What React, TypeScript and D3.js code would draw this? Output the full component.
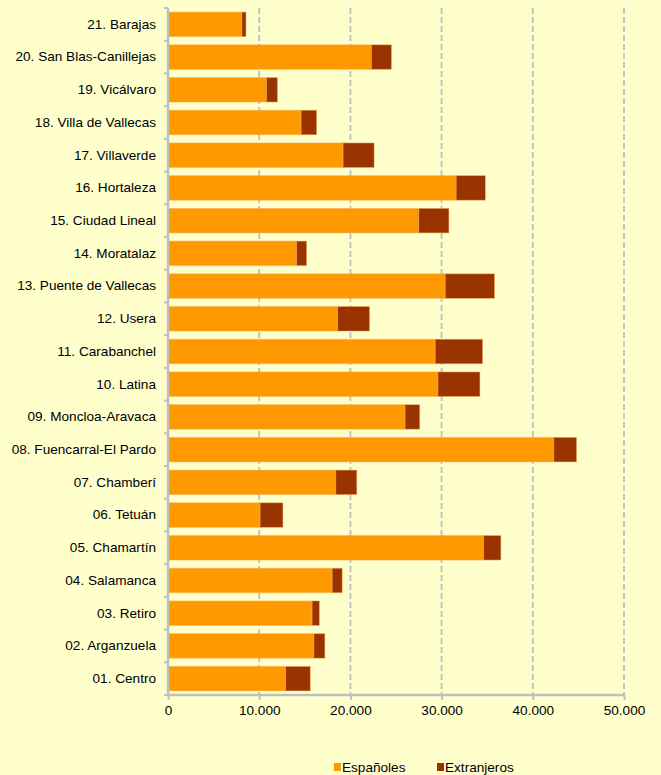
import { useEffect, useRef } from "react";
import * as d3 from "d3";

// districts top to bottom, as in the picture
const districts = [
  "21. Barajas",
  "20. San Blas-Canillejas",
  "19. Vicálvaro",
  "18. Villa de Vallecas",
  "17. Villaverde",
  "16. Hortaleza",
  "15. Ciudad Lineal",
  "14. Moratalaz",
  "13. Puente de Vallecas",
  "12. Usera",
  "11. Carabanchel",
  "10. Latina",
  "09. Moncloa-Aravaca",
  "08. Fuencarral-El Pardo",
  "07. Chamberí",
  "06. Tetuán",
  "05. Chamartín",
  "04. Salamanca",
  "03. Retiro",
  "02. Arganzuela",
  "01. Centro",
];

const espanoles = [
  8100, 22300, 10800, 14600, 19200, 31600, 27500, 14100, 30400, 18600, 29300,
  29600, 26000, 42300, 18400, 10100, 34600, 18000, 15800, 16000, 12900,
];

const extranjeros = [
  450, 2200, 1200, 1700, 3400, 3200, 3300, 1100, 5400, 3500, 5200, 4600, 1600,
  2500, 2300, 2500, 1900, 1100, 800, 1200, 2700,
];

const seriesNames = ["Españoles", "Extranjeros"];
const seriesColors = ["#FF9900", "#993300"];
const xTicks = [0, 10000, 20000, 30000, 40000, 50000];

const W = 661;
const H = 775;
const FONT = "Liberation Sans, Arial, sans-serif";

export default function App() {
  const ref = useRef<SVGSVGElement>(null);

  useEffect(() => {
    const svg = d3.select(ref.current);
    svg.selectAll("*").remove();

    const margin = { top: 8, right: 37, bottom: 80, left: 168 };
    const width = W - margin.left - margin.right;
    const height = H - margin.top - margin.bottom;

    svg
      .append("rect")
      .attr("width", W)
      .attr("height", H)
      .attr("fill", "#FFFFCC");

    const g = svg
      .append("g")
      .attr("transform", `translate(${margin.left},${margin.top})`);

    const x = d3.scaleLinear().domain([0, 50000]).range([0, width]);
    const y = d3
      .scaleBand()
      .domain(districts)
      .range([0, height])
      .paddingInner(0.25)
      .paddingOuter(0.125);

    // dashed gridlines
    g.selectAll(".grid")
      .data(xTicks.slice(1))
      .enter()
      .append("line")
      .attr("x1", (d) => x(d))
      .attr("x2", (d) => x(d))
      .attr("y1", 0)
      .attr("y2", height)
      .attr("stroke", "#C3C3C3")
      .attr("stroke-width", 2)
      .attr("stroke-dasharray", "6,3");

    const rows = districts.map((d, i) => ({
      name: d,
      values: [espanoles[i], extranjeros[i]],
    }));

    const stack = d3
      .stack<any>()
      .keys([0, 1] as any)
      .value((d: any, k: any) => d.values[k]);
    const layers = stack(rows as any);

    layers.forEach((layer, li) => {
      g.selectAll(".bar" + li)
        .data(layer)
        .enter()
        .append("rect")
        .attr("x", (d) => x(d[0]))
        .attr("y", (d: any) => y(d.data.name)!)
        .attr("width", (d) => x(d[1]) - x(d[0]))
        .attr("height", y.bandwidth())
        .attr("fill", seriesColors[li])
        .attr("stroke", "#F0B060")
        .attr("stroke-opacity", 0.6)
        .attr("stroke-width", 0.8);
    });

    // left axis
    const yAxis = g
      .append("g")
      .call(d3.axisLeft(y).tickSize(0).tickPadding(12));
    yAxis.select(".domain").remove();
    yAxis
      .selectAll("text")
      .attr("font-family", FONT)
      .attr("font-size", 13.6)
      .attr("fill", "#000");

    const step = y.step();
    const bounds = d3.range(0, districts.length + 1).map((i) => i * step);
    g.selectAll(".ytick")
      .data(bounds)
      .enter()
      .append("line")
      .attr("x1", -4)
      .attr("x2", 0)
      .attr("y1", (d) => d)
      .attr("y2", (d) => d)
      .attr("stroke", "#BFBFBF")
      .attr("stroke-width", 2);
    g.append("line")
      .attr("x1", 0)
      .attr("x2", 0)
      .attr("y1", 0)
      .attr("y2", height)
      .attr("stroke", "#BFBFBF")
      .attr("stroke-width", 2.5);

    // bottom axis
    const xAxis = g
      .append("g")
      .attr("transform", `translate(0,${height})`)
      .call(
        d3
          .axisBottom(x)
          .tickValues(xTicks)
          .tickSize(5)
          .tickPadding(5)
          .tickFormat((d) =>
            (d as number) === 0 ? "0" : d3.format(",")(d as number).replace(/,/g, ".")
          )
      );
    xAxis
      .select(".domain")
      .attr("stroke", "#BFBFBF")
      .attr("stroke-width", 2.5)
      .attr("d", `M0,0H${width}`);
    xAxis.selectAll("line").attr("stroke", "#BFBFBF").attr("stroke-width", 2);
    xAxis
      .selectAll("text")
      .attr("font-family", FONT)
      .attr("font-size", 13.6)
      .attr("fill", "#000");

    // legend
    const legend = svg.append("g").attr("transform", "translate(334,762)");
    const legendX = [0, 103];
    seriesNames.forEach((name, i) => {
      const lg = legend.append("g").attr("transform", `translate(${legendX[i]},0)`);
      lg.append("rect")
        .attr("width", 7)
        .attr("height", 8)
        .attr("y", 1)
        .attr("fill", seriesColors[i]);
      lg.append("text")
        .attr("x", 8)
        .attr("y", 10)
        .attr("font-family", FONT)
        .attr("font-size", 13.6)
        .attr("fill", "#000")
        .text(name);
    });
  }, []);

  return (
    <svg
      ref={ref}
      width={W}
      height={H}
      style={{ position: "absolute", left: 0, top: 0 }}
    />
  );
}
